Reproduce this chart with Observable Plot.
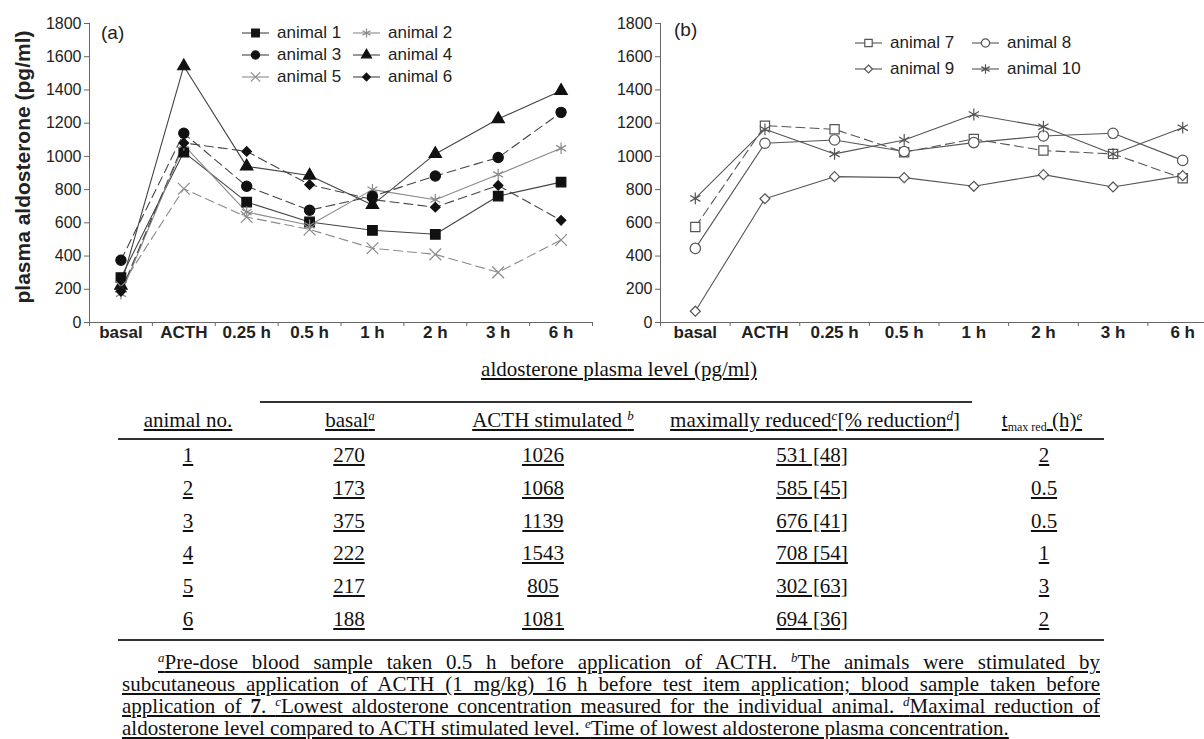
<!DOCTYPE html>
<html><head><meta charset="utf-8">
<script src="https://cdn.jsdelivr.net/npm/d3@7"></script>
<script src="https://cdn.jsdelivr.net/npm/@observablehq/plot@0.6"></script>
<style>
body{margin:0;background:#fff;width:1204px;height:739px;position:relative;overflow:hidden;font-family:"Liberation Sans",Arial,sans-serif;color:#222;}
.abs{position:absolute;}
.leg{position:absolute;display:flex;align-items:center;font-size:17px;color:#222;white-space:nowrap;}
.leg svg{margin-right:8px;}
.tb{position:absolute;font-family:"Liberation Serif","Times New Roman",serif;font-size:21px;color:#111;text-decoration:underline;white-space:nowrap;transform:translate(-50%,-50%);line-height:24px;}
sup{font-style:italic;font-size:13px;vertical-align:baseline;position:relative;top:-0.55em;line-height:0;}
sub{font-size:12px;vertical-align:baseline;position:relative;top:0.3em;line-height:0;}
.rule{position:absolute;background:#333;}
.fn{position:absolute;left:122px;width:978px;font-family:"Liberation Serif","Times New Roman",serif;font-size:21px;color:#111;text-decoration:underline;white-space:nowrap;text-align:justify;text-align-last:justify;line-height:22px;}
#pa svg,#pb svg{max-width:none !important;}
</style></head><body>
<div id="pa" class="abs" style="left:0;top:0;width:600px"></div>
<div id="pb" class="abs" style="left:600px;top:0;width:620px"></div>
<div id="extra"></div>
<script>
// ---- data ----
const times = ["basal","ACTH","0.25 h","0.5 h","1 h","2 h","3 h","6 h"];
const yTicks = [0,200,400,600,800,1000,1200,1400,1600,1800];
const animal1 = [270,1026,725,605,555,531,761,845];
const animal2 = [173,1068,665,585,800,739,891,1049];
const animal3 = [375,1139,820,676,760,882,993,1265];
const animal4 = [222,1543,940,885,708,1015,1225,1395];
const animal5 = [217,805,635,560,447,410,302,497];
const animal6 = [188,1081,1030,830,740,694,825,615];
const animal7 = [575,1185,1163,1025,1105,1035,1015,868];
const animal8 = [446,1079,1099,1029,1083,1123,1139,976];
const animal9 = [68,745,878,872,820,890,816,884];
const animal10 = [747,1163,1015,1099,1252,1179,1015,1173];

// table
const animalNo = ["1","2","3","4","5","6"];
const basalLvl = [270,173,375,222,217,188];
const acthLvl = [1026,1068,1139,1543,805,1081];
const maxRed = [531,585,676,708,302,694];
const pctRed = [48,45,41,54,63,36];
const tMaxRed = ["2","0.5","0.5","1","3","2"];

// ---- styles ----
const dark = "#444", grey = "#8a8a8a", bline = "#555";
const seriesA = [
  {name:"animal 1", values:animal1, symbol:"square", fill:"#111", stroke:"#111", line:dark, dash:false, r:5.4},
  {name:"animal 2", values:animal2, symbol:"asterisk", fill:"none", stroke:grey, line:grey, dash:false, r:5.4},
  {name:"animal 3", values:animal3, symbol:"circle", fill:"#111", stroke:"#111", line:dark, dash:true, r:5.1},
  {name:"animal 4", values:animal4, symbol:"triangle", fill:"#111", stroke:"#111", line:dark, dash:false, r:4.6},
  {name:"animal 5", values:animal5, symbol:"times", fill:"none", stroke:grey, line:grey, dash:true, r:5.4},
  {name:"animal 6", values:animal6, symbol:"diamond2", fill:"#111", stroke:"#111", line:dark, dash:true, r:4.3}
];
const seriesB = [
  {name:"animal 7", values:animal7, symbol:"square", fill:"#fff", stroke:bline, line:bline, dash:true, r:5.2},
  {name:"animal 8", values:animal8, symbol:"circle", fill:"#fff", stroke:bline, line:bline, dash:false, r:5.2},
  {name:"animal 9", values:animal9, symbol:"diamond2", fill:"#fff", stroke:bline, line:bline, dash:false, r:4.5},
  {name:"animal 10", values:animal10, symbol:"asterisk", fill:"none", stroke:bline, line:bline, dash:false, r:5.6}
];

function panel(series, o) {
  const marks = [
    Plot.frame({anchor:"left", stroke:"#666"}),
    Plot.frame({anchor:"bottom", stroke:"#666"}),
    Plot.axisY({ticks:yTicks, tickFormat:d=>String(d), tickSize:5, tickPadding:3, fontSize:16, label:null, stroke:"#666", fill:"#222"}),
    Plot.axisX({ticks:d3.range(times.length), tickFormat:i=>times[i], tickSize:0, tickPadding:3, fontSize:17, fontWeight:"bold", label:null, fill:"#222"}),
    Plot.axisX({ticks:d3.range(times.length+1).map(i=>i-0.5), tickFormat:()=>"", tickSize:4, label:null, stroke:"#666"})
  ];
  series.forEach(s => {
    const data = s.values.map((v,i)=>({i, v}));
    marks.push(Plot.line(data, {x:"i", y:"v", stroke:s.line, strokeWidth:1.1, strokeDasharray: s.dash ? "9,5" : null}));
  });
  series.forEach(s => {
    const data = s.values.map((v,i)=>({i, v}));
    marks.push(Plot.dot(data, {x:"i", y:"v", symbol:s.symbol, r:s.r, fill:s.fill, stroke:s.stroke, strokeWidth:1.2}));
  });
  return Plot.plot({
    width:o.width, height:345,
    marginLeft:o.ml, marginRight:o.mr, marginTop:23, marginBottom:23,
    x:{type:"linear", domain:[-0.5, times.length-0.5]},
    y:{domain:[0,1800]},
    style:{fontFamily:"'Liberation Sans', Arial, sans-serif", background:"transparent", overflow:"visible", maxWidth:"none"},
    marks
  });
}
document.getElementById("pa").appendChild(panel(seriesA, {width:600, ml:89, mr:8}));
document.getElementById("pb").appendChild(panel(seriesB, {width:617, ml:60, mr:0}));

const extra = d3.select("#extra");
// y-axis title
extra.append("div").attr("class","abs")
  .style("left","23px").style("top","167px")
  .style("transform","translate(-50%,-50%) rotate(-90deg)")
  .style("font-size","21px").style("font-weight","bold").style("white-space","nowrap")
  .text("plasma aldosterone (pg/ml)");
// panel letters
extra.append("div").attr("class","abs").style("left","101px").style("top","22px").style("font-size","19px").text("(a)");
extra.append("div").attr("class","abs").style("left","674px").style("top","19px").style("font-size","19px").text("(b)");

// legends
const symMap = {square:d3.symbolSquare, circle:d3.symbolCircle, triangle:d3.symbolTriangle, diamond2:d3.symbolDiamond2, asterisk:d3.symbolAsterisk, times:d3.symbolTimes};
function legendItem(s, x, y) {
  const div = extra.append("div").attr("class","leg").style("left", x+"px").style("top", (y-10)+"px");
  const svg = div.append("svg").attr("width",27).attr("height",20);
  svg.append("line").attr("x1",0).attr("x2",27).attr("y1",10).attr("y2",10).attr("stroke", s.line).attr("stroke-width",1.1);
  svg.append("path").attr("transform","translate(13.5,10)")
    .attr("d", d3.symbol(symMap[s.symbol], Math.PI*(s.r*0.8)**2)())
    .attr("fill", s.fill).attr("stroke", s.stroke).attr("stroke-width",1.2);
  div.append("span").text(s.name);
}
seriesA.forEach((s,k)=> legendItem(s, k%2 ? 353 : 242, 33 + Math.floor(k/2)*22));
seriesB.forEach((s,k)=> legendItem(s, k%2 ? 972 : 855, 43 + Math.floor(k/2)*26));

// table
function cell(html, x, y) {
  extra.append("div").attr("class","tb").style("left", x+"px").style("top", y+"px").html(html);
}
function rule(x1, x2, y, h) {
  extra.append("div").attr("class","rule").style("left", x1+"px").style("width",(x2-x1)+"px").style("top", y+"px").style("height", h+"px");
}
const colX = [188, 349, 543, 812, 1044];
cell("aldosterone plasma level (pg/ml)", 619, 369);
rule(260, 972, 401, 1.5);
cell("animal no.", 188, 420);
cell("basal<sup>a</sup>", 350, 420);
cell("ACTH stimulated <sup>b</sup>", 553, 420);
cell("maximally reduced<sup>c</sup>[% reduction<sup>d</sup>]", 815, 420);
cell("t<sub>max red</sub> (h)<sup>e</sup>", 1042, 420);
rule(118, 1104, 438, 2);
animalNo.forEach((a,k) => {
  const y = 455 + k*32.8;
  cell(a, colX[0], y);
  cell(String(basalLvl[k]), colX[1], y);
  cell(String(acthLvl[k]), colX[2], y);
  cell(`${maxRed[k]} [${pctRed[k]}]`, colX[3], y);
  cell(tMaxRed[k], colX[4], y);
});
rule(118, 1104, 639, 1.5);

const fnLines = [
  "<sup>a</sup>Pre-dose blood sample taken 0.5 h before application of ACTH. <sup>b</sup>The animals were stimulated by",
  "subcutaneous application of ACTH (1 mg/kg) 16 h before test item application; blood sample taken before",
  "application of <b>7</b>. <sup>c</sup>Lowest aldosterone concentration measured for the individual animal. <sup>d</sup>Maximal reduction of",
  "aldosterone level compared to ACTH stimulated level. <sup>e</sup>Time of lowest aldosterone plasma concentration."
];
fnLines.forEach((t,k) => {
  const d = extra.append("div").attr("class","fn").style("top", (651 + k*22)+"px").html(t);
  if (k === 0) d.style("left","158px").style("width","942px");
  if (k === 3) d.style("text-align-last","left");
});
</script>
</body></html>
